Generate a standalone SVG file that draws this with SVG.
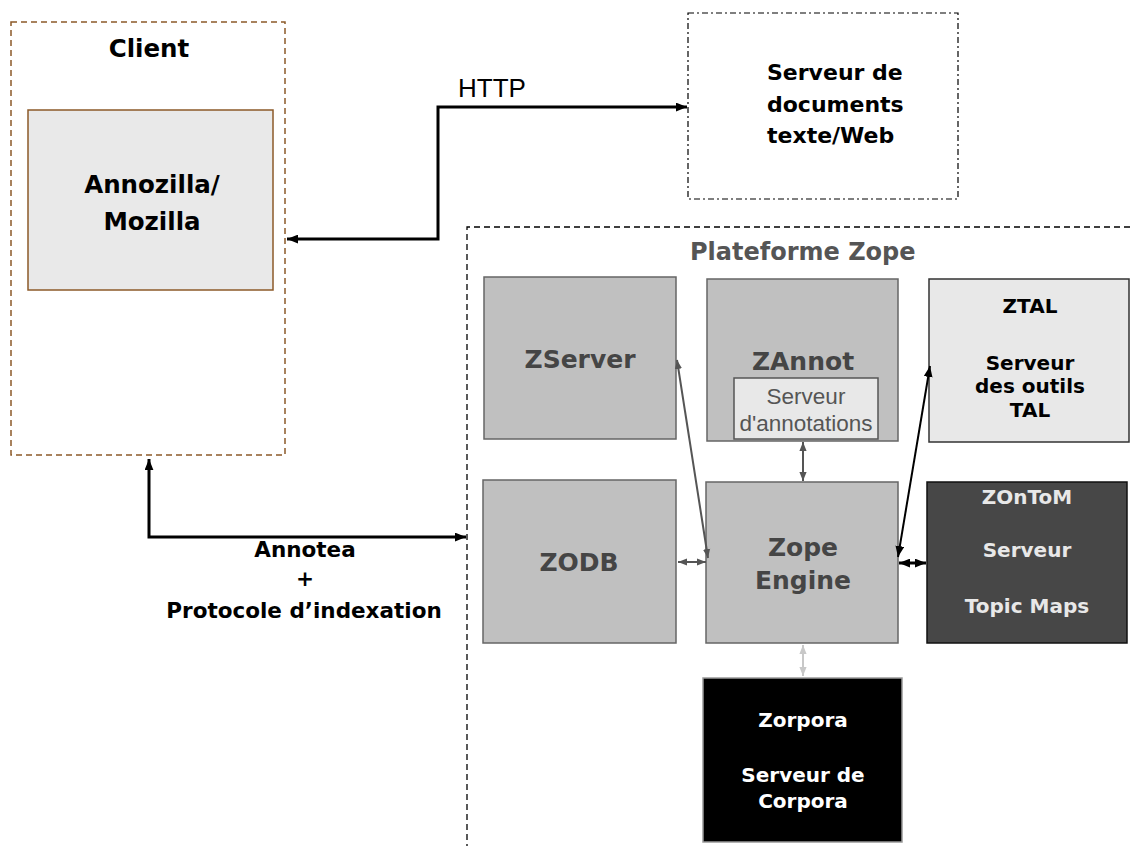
<svg xmlns="http://www.w3.org/2000/svg" width="1134" height="846" viewBox="0 0 1134 846">
<style>
  .b { font-family: "DejaVu Sans", Verdana, sans-serif; font-weight: bold; }
  .mid { text-anchor: middle; }
  .grey { fill: #c0c0c0; stroke: #666; stroke-width: 1.5; }
  .gtxt { fill: #454545; font-size: 25px; }
  .w20 { font-size: 20px; }
  .conn { fill: none; }
</style>
<defs>
  <marker id="ab" viewBox="0 0 10 8" refX="10" refY="4" markerWidth="11" markerHeight="9" markerUnits="userSpaceOnUse" orient="auto-start-reverse">
    <path d="M0,0 L10,4 L0,8 z" fill="#000"/>
  </marker>
  <marker id="ag" viewBox="0 0 10 8" refX="10" refY="4" markerWidth="9" markerHeight="8" markerUnits="userSpaceOnUse" orient="auto-start-reverse">
    <path d="M0,0 L10,4 L0,8 z" fill="#555"/>
  </marker>
  <marker id="al" viewBox="0 0 10 8" refX="10" refY="4" markerWidth="9" markerHeight="8" markerUnits="userSpaceOnUse" orient="auto-start-reverse">
    <path d="M0,0 L10,4 L0,8 z" fill="#c8c8c8"/>
  </marker>
</defs>
<rect width="1134" height="846" fill="#fff"/>

<g id="client">
  <rect x="11" y="22" width="274" height="433" fill="none" stroke="#8c5a28" stroke-width="1.5" stroke-dasharray="6,4"/>
  <text class="b mid" x="149" y="57" font-size="24.5" fill="#000">Client</text>
</g>
<g id="annozilla">
  <rect x="28" y="110" width="245" height="180" fill="#e9e9e9" stroke="#8c5a28" stroke-width="1.5"/>
  <text class="b mid" x="152" y="193" font-size="24.5" fill="#000">Annozilla/</text>
  <text class="b mid" x="152" y="230" font-size="24.5" fill="#000">Mozilla</text>
</g>
<g id="serveur-docs">
  <rect x="688" y="13" width="270" height="186" fill="none" stroke="#000" stroke-width="1.2" stroke-dasharray="6,3,2,3"/>
  <text class="b" x="767" y="80" font-size="22" fill="#000">Serveur de</text>
  <text class="b" x="767" y="112" font-size="22" fill="#000">documents</text>
  <text class="b" x="767" y="143" font-size="22" fill="#000">texte/Web</text>
</g>
<g id="plateforme">
  <path d="M1140,227 H467 V850" fill="none" stroke="#000" stroke-width="1.3" stroke-dasharray="6,4"/>
  <text class="b" x="690" y="260" font-size="24" fill="#555">Plateforme Zope</text>
</g>
<g id="zserver">
  <rect class="grey" x="484" y="277" width="192" height="162"/>
  <text class="b mid gtxt" x="580" y="368">ZServer</text>
</g>
<g id="zannot">
  <rect class="grey" x="707" y="279" width="191" height="162"/>
  <text class="b mid gtxt" x="803" y="370">ZAnnot</text>
  <rect x="734" y="378" width="144" height="61" fill="#e8e8e8" stroke="#555" stroke-width="1.5"/>
  <text class="mid" x="806" y="404" font-family="Liberation Sans, Arial, sans-serif" font-size="22.5" fill="#555">Serveur</text>
  <text class="mid" x="806" y="431" font-family="Liberation Sans, Arial, sans-serif" font-size="22.5" fill="#555">d'annotations</text>
</g>
<g id="ztal">
  <rect x="929" y="279" width="200" height="163" fill="#e8e8e8" stroke="#333" stroke-width="1.5"/>
  <text class="b mid w20" x="1030" y="313" fill="#000">ZTAL</text>
  <text class="b mid w20" x="1030" y="370" fill="#000">Serveur</text>
  <text class="b mid w20" x="1030" y="393" fill="#000">des outils</text>
  <text class="b mid w20" x="1030" y="417" fill="#000">TAL</text>
</g>
<g id="zodb">
  <rect class="grey" x="483" y="480" width="193" height="163"/>
  <text class="b mid gtxt" x="579" y="571">ZODB</text>
</g>
<g id="zope-engine">
  <rect class="grey" x="706" y="482" width="192" height="161"/>
  <text class="b mid gtxt" x="803" y="556">Zope</text>
  <text class="b mid gtxt" x="803" y="589">Engine</text>
</g>
<g id="zontom">
  <rect x="927" y="482" width="200" height="161" fill="#474747" stroke="#111" stroke-width="1.5"/>
  <text class="b mid w20" x="1027" y="504" fill="#e8e8e8">ZOnToM</text>
  <text class="b mid w20" x="1027" y="557" fill="#e8e8e8">Serveur</text>
  <text class="b mid w20" x="1027" y="613" fill="#e8e8e8">Topic Maps</text>
</g>
<g id="zorpora">
  <rect x="703" y="678" width="199" height="164" fill="#000" stroke="#999" stroke-width="1.5"/>
  <text class="b mid w20" x="803" y="727" fill="#fff">Zorpora</text>
  <text class="b mid w20" x="803" y="782" fill="#fff">Serveur de</text>
  <text class="b mid w20" x="803" y="808" fill="#fff">Corpora</text>
</g>

<g id="connectors">
  <path class="conn" d="M287,239 H438 V107 H687" stroke="#000" stroke-width="3" marker-start="url(#ab)" marker-end="url(#ab)"/>
  <text x="458" y="97" font-family="Liberation Sans, Arial, sans-serif" font-size="26" fill="#000">HTTP</text>
  <path class="conn" d="M149,459 V537 H466" stroke="#000" stroke-width="3" marker-start="url(#ab)" marker-end="url(#ab)"/>
  <text class="b mid" x="305" y="557" font-size="21.5" fill="#000">Annotea</text>
  <text class="b mid" x="305" y="586" font-size="21.5" fill="#000">+</text>
  <text class="b mid" x="304" y="618" font-size="21.5" fill="#000">Protocole d’indexation</text>
  <line class="conn" x1="677" y1="360" x2="708" y2="558" stroke="#555" stroke-width="2" marker-start="url(#ag)" marker-end="url(#ag)"/>
  <line class="conn" x1="803" y1="442" x2="803" y2="481" stroke="#555" stroke-width="2" marker-start="url(#ag)" marker-end="url(#ag)"/>
  <line class="conn" x1="930" y1="366" x2="898" y2="557" stroke="#000" stroke-width="2" marker-start="url(#ab)" marker-end="url(#ab)"/>
  <line class="conn" x1="678" y1="562" x2="706" y2="562" stroke="#555" stroke-width="2" marker-start="url(#ag)" marker-end="url(#ag)"/>
  <line class="conn" x1="899" y1="563" x2="926" y2="563" stroke="#000" stroke-width="3" marker-start="url(#ab)" marker-end="url(#ab)"/>
  <line class="conn" x1="803" y1="645" x2="803" y2="676" stroke="#c8c8c8" stroke-width="2" marker-start="url(#al)" marker-end="url(#al)"/>
</g>
</svg>
